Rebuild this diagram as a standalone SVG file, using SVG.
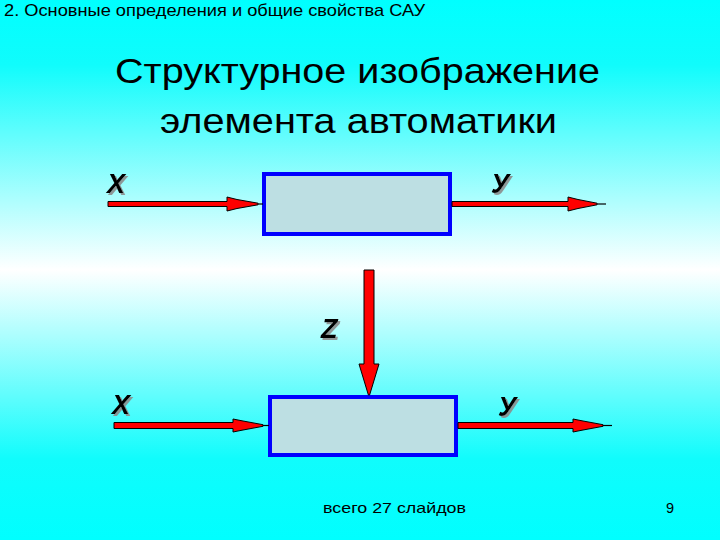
<svg xmlns="http://www.w3.org/2000/svg" width="720" height="540" viewBox="0 0 720 540">
<defs>
<linearGradient id="bg" x1="0" y1="0" x2="0" y2="1">
<stop offset="0" stop-color="#00FFFF"/>
<stop offset="0.12" stop-color="#10FCFC"/>
<stop offset="0.5" stop-color="#FFFFFF"/>
<stop offset="0.85" stop-color="#10FCFC"/>
<stop offset="1" stop-color="#00FFFF"/>
</linearGradient>
<filter id="ds" x="-20%" y="-20%" width="150%" height="150%">
<feDropShadow dx="2" dy="2" stdDeviation="0.3" flood-color="#8C8C8C" flood-opacity="0.9"/>
</filter>
</defs>
<style>
.t{font-family:"Liberation Sans",Arial,sans-serif;fill:#000}
.lbl{font-family:"Liberation Sans",Arial,sans-serif;font-weight:bold;font-style:italic;font-size:27px;fill:#000;filter:url(#ds)}
.box{fill:#BDDFE3;stroke:#0000FF;stroke-width:4}
.arr{fill:#FF0000;stroke:#000;stroke-width:1;stroke-linejoin:miter}
.tip{stroke:#000;stroke-width:1.2}
</style>
<rect x="0" y="0" width="720" height="540" fill="url(#bg)"/>
<text class="t" x="4" y="15.5" font-size="17" textLength="421" lengthAdjust="spacingAndGlyphs">2. Основные определения и общие свойства САУ</text>
<text class="t" x="115" y="83" font-size="35" textLength="485" lengthAdjust="spacingAndGlyphs">Структурное изображение</text>
<text class="t" x="160" y="133" font-size="35" textLength="397" lengthAdjust="spacingAndGlyphs">элемента автоматики</text>
<g id="node-top">
<rect class="box" x="264" y="174" width="186" height="60"/>
</g>
<g id="node-bottom">
<rect class="box" x="270" y="397" width="186" height="58"/>
</g>
<g id="connectors">
<polygon class="arr" points="108,201.5 227,201.5 227,197 237,199.5 258,203.2 258,204.8 237,208.5 227,211 227,206.5 108,206.5"/>
<line class="tip" x1="258" y1="204" x2="263" y2="204"/>
<polygon class="arr" points="452,201.5 568,201.5 568,197 578,199.5 597,203.2 597,204.8 578,208.5 568,211 568,206.5 452,206.5"/>
<line class="tip" x1="597" y1="204" x2="606" y2="204"/>
<polygon class="arr" points="364,270 374,270 374,364 379,364 369.6,395 368.4,395 359,364 364,364"/>
<polygon class="arr" points="114,422.5 233,422.5 233,419 243,421 263,424.7 263,426.3 243,430 233,432 233,428.5 114,428.5"/>
<line class="tip" x1="263" y1="425.5" x2="269" y2="425.5"/>
<polygon class="arr" points="458,422.5 573,422.5 573,419 583,421 603,424.7 603,426.3 583,430 573,432 573,428.5 458,428.5"/>
<line class="tip" x1="603" y1="425.5" x2="612" y2="425.5"/>
</g>
<g id="labels">
<text class="lbl" x="107" y="193">X</text>
<text class="lbl" x="491" y="193">У</text>
<text class="lbl" x="321" y="338">Z</text>
<text class="lbl" x="112" y="414">X</text>
<text class="lbl" x="498" y="416">У</text>
</g>
<text class="t" x="323" y="513" font-size="14.5" textLength="143" lengthAdjust="spacingAndGlyphs">всего 27 слайдов</text>
<text class="t" x="666" y="513" font-size="14.5">9</text>
</svg>
